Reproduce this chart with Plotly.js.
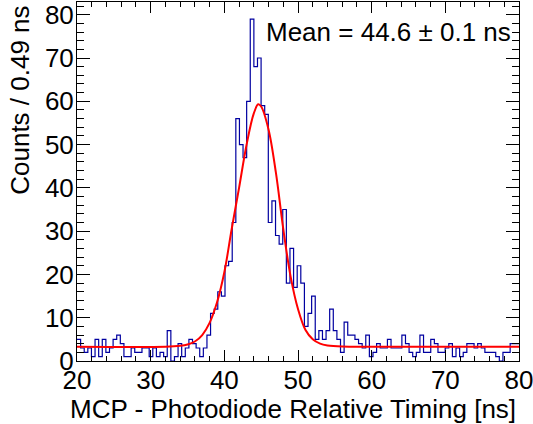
<!DOCTYPE html>
<html>
<head>
<meta charset="utf-8">
<script src="https://cdn.plot.ly/plotly-3.0.1.min.js"></script>
<style>html,body{margin:0;padding:0;background:#fff;}#chart{width:533px;height:424px;}</style>
</head>
<body>
<div id="chart"></div>
<script>
// Histogram: low edge of first bin and bin width (ns)
const binLow = 20;
const binWidth = 0.49;
// Counts per bin (bins starting at 20 ns)
const counts = [
  5, 3, 2, 3, 1, 5, 1, 5, 2, 3,
  5, 6, 4, 1, 1, 3, 2, 2, 3, 3,
  1, 3, 1, 2, 1, 7, 0, 1, 4, 1,
  3, 5, 4, 3, 1, 3, 6, 11, 12, 16,
  15, 22, 23, 32, 56, 50, 47, 60, 79, 68,
  70, 59, 57, 32, 37, 29, 27, 35, 18, 26,
  17, 22, 18, 8, 11, 15, 5, 7, 5, 7,
  12, 7, 5, 2, 9, 6, 6, 5, 4, 3,
  6, 1, 2, 4, 3, 3, 5, 3, 3, 3,
  6, 4, 2, 1, 2, 6, 2, 2, 5, 4,
  2, 2, 3, 4, 1, 3, 1, 2, 4, 4,
  3, 4, 3, 2, 2, 2, 1, 0, 2, 2,
  4, 4, 4
];
// Fitted curve (Gaussian + constant)
const fitX = [20, 32, 34, 35, 36, 37, 38, 39, 40, 41, 42, 43, 44, 44.6, 45, 46, 47, 48, 49, 50, 51, 52, 53, 54, 56, 60, 80];
const fitY = [3.3, 3.3, 3.5, 3.8, 4.5, 6.0, 8.8, 13.5, 20.5, 30.5, 40.0, 49.8, 57.2, 59.3, 58.8, 53.5, 43.5, 30.5, 19.5, 12.0, 7.2, 5.0, 4.0, 3.6, 3.35, 3.3, 3.3];
// Text
const xTitle = "MCP - Photodiode Relative Timing [ns]";
const yTitle = "Counts / 0.49 ns";
const meanLabel = "Mean = 44.6 \u00b1 0.1 ns";
const xTicks = [20, 30, 40, 50, 60, 70, 80];
const yTicks = [0, 10, 20, 30, 40, 50, 60, 70, 80];

// Step outline: one point per bin low edge plus the final high edge
const stepX = counts.map((c, i) => binLow + i * binWidth);
stepX.push(binLow + counts.length * binWidth);
const stepY = counts.slice();
stepY.push(counts[counts.length - 1]);

const font = {family: '"Liberation Sans", Arial, Helvetica, sans-serif', size: 26, color: '#000'};

const traces = [
  {x: stepX, y: stepY, type: 'scatter', mode: 'lines', line: {shape: 'hv', color: '#0000a0', width: 1.2}, hoverinfo: 'skip'},
  {x: fitX, y: fitY, type: 'scatter', mode: 'lines', line: {shape: 'spline', smoothing: 1, color: '#ff0000', width: 2}, hoverinfo: 'skip'}
];

const axisCommon = {
  showline: true, linecolor: '#000', linewidth: 1, mirror: 'ticks',
  ticks: 'inside', tickcolor: '#000', tickwidth: 1,
  showgrid: false, zeroline: false, tickfont: font, fixedrange: true,
  ticklabeloverflow: 'allow'
};

const layout = {
  width: 533, height: 424,
  margin: {l: 77, r: 14, t: 2, b: 63, pad: 0},
  paper_bgcolor: '#fff', plot_bgcolor: '#fff',
  showlegend: false, font: font,
  xaxis: Object.assign({}, axisCommon, {
    range: [20, 80], tickmode: 'array', tickvals: xTicks, ticktext: xTicks.map(String), ticklen: 11,
    ticklabelstandoff: -4,
    minor: {dtick: 2, tick0: 20, ticks: 'inside', ticklen: 5, tickcolor: '#000', tickwidth: 1, showgrid: false}
  }),
  yaxis: Object.assign({}, axisCommon, {
    range: [0, 82.94], tickmode: 'array', tickvals: yTicks, ticktext: yTicks.map(String), ticklen: 13,
    ticklabelstandoff: -3,
    minor: {dtick: 2, tick0: 0, ticks: 'inside', ticklen: 7, tickcolor: '#000', tickwidth: 1, showgrid: false}
  }),
  annotations: [
    {text: xTitle, xref: 'paper', yref: 'paper', x: 0.9977, y: -0.1347, xanchor: 'right', yanchor: 'middle', showarrow: false, font: font},
    {text: yTitle, xref: 'paper', yref: 'paper', x: -0.129, y: 0.9964, xanchor: 'center', yanchor: 'top', textangle: -90, showarrow: false, font: font},
    {text: meanLabel, xref: 'paper', yref: 'paper', x: 0.986, y: 0.916, xanchor: 'right', yanchor: 'middle', showarrow: false, font: font}
  ]
};

Plotly.newPlot('chart', traces, layout, {staticPlot: true, displayModeBar: false});
</script>
</body>
</html>
